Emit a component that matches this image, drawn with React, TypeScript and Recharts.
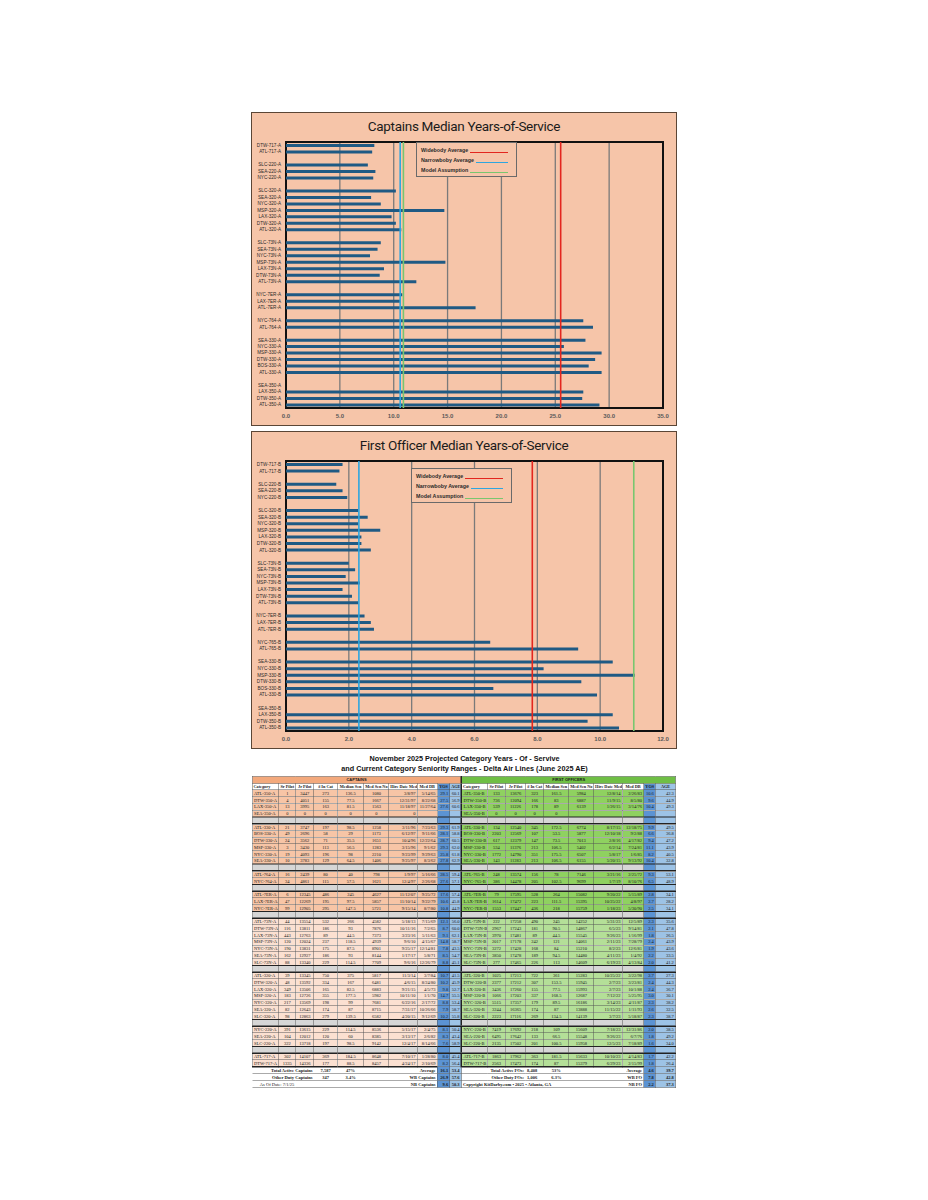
import React from "react";
import {
  Bar,
  BarChart,
  CartesianGrid,
  ReferenceArea,
  ReferenceLine,
  XAxis,
  YAxis,
} from "recharts";

// ---- chart data (top row first, "" = spacer row) ----
const captainCats = [
  "DTW-717-A", "ATL-717-A", "",
  "SLC-220-A", "SEA-220-A", "NYC-220-A", "",
  "SLC-320-A", "SEA-320-A", "NYC-320-A", "MSP-320-A", "LAX-320-A", "DTW-320-A", "ATL-320-A", "",
  "SLC-73N-A", "SEA-73N-A", "NYC-73N-A", "MSP-73N-A", "LAX-73N-A", "DTW-73N-A", "ATL-73N-A", "",
  "NYC-7ER-A", "LAX-7ER-A", "ATL-7ER-A", "",
  "NYC-764-A", "ATL-764-A", "",
  "SEA-330-A", "NYC-330-A", "MSP-330-A", "DTW-330-A", "BOS-330-A", "ATL-330-A", "",
  "SEA-350-A", "LAX-350-A", "DTW-350-A", "ATL-350-A",
];
const captainYos = [
  8.2, 8.0, null,
  7.6, 8.3, 8.1, null,
  10.2, 7.9, 8.8, 14.7, 9.8, 10.2, 10.7, null,
  8.8, 8.5, 7.8, 14.8, 9.1, 8.7, 12.1, null,
  10.8, 10.6, 17.6, null,
  27.6, 28.5, null,
  27.8, 25.8, 29.3, 28.7, 28.1, 29.3, null,
  0, 27.6, 27.5, 29.1,
];
const foCats = [
  "DTW-717-B", "ATL-717-B", "",
  "SLC-220-B", "SEA-220-B", "NYC-220-B", "",
  "SLC-320-B", "SEA-320-B", "NYC-320-B", "MSP-320-B", "LAX-320-B", "DTW-320-B", "ATL-320-B", "",
  "SLC-73N-B", "SEA-73N-B", "NYC-73N-B", "MSP-73N-B", "LAX-73N-B", "DTW-73N-B", "ATL-73N-B", "",
  "NYC-7ER-B", "LAX-7ER-B", "ATL-7ER-B", "",
  "NYC-765-B", "ATL-765-B", "",
  "SEA-330-B", "NYC-330-B", "MSP-330-B", "DTW-330-B", "BOS-330-B", "ATL-330-B", "",
  "SEA-350-B", "LAX-350-B", "DTW-350-B", "ATL-350-B",
];
const foYos = [
  1.8, 1.7, null,
  1.6, 1.8, 1.95, null,
  2.3, 2.6, 2.3, 3.0, 2.4, 2.4, 2.7, null,
  2.0, 2.2, 1.9, 2.35, 1.8, 2.1, 2.3, null,
  2.5, 2.7, 2.8, null,
  6.5, 9.3, null,
  10.4, 8.2, 11.1, 9.4, 6.6, 9.9, null,
  0, 10.4, 9.6, 10.6,
];
const captainTicks = [0, 5, 10, 15, 20, 25, 30, 35];
const foTicks = [0, 2, 4, 6, 8, 10, 12];
// widebody, narrowbody, model assumption
const captainLines = [25.5, 10.6, 10.9];
const foLines = [7.84, 2.32, 11.07];
const lineNames = ["Widebody Average", "Narrowboby Average", "Model Assumption"];
const lineColors = ["#E3261E", "#2EA6DF", "#79C66F"];

// ---- table data ----
const tableHeaders = [
  "Category", "Sr Pilot", "Jr Pilot", "# In Cat", "Median Sen", "Med Sen No", "Hire Date Med", "Med DB", "YOS", "AGE",
];
const captainGroups = [
  [
    ["ATL-350-A", "1", "3447", "273", "136.5", "1080", "3/8/97", "5/14/65", "29.1", "60.1"],
    ["DTW-350-A", "4", "4051", "155", "77.5", "1667", "12/31/97", "8/22/68", "27.5", "56.9"],
    ["LAX-350-A", "13", "3995", "163", "81.5", "1563", "11/18/97", "11/27/64", "27.6", "60.6"],
    ["SEA-350-A", "0", "0", "0", "0", "0", "0", "", "", ""],
  ],
  [
    ["ATL-330-A", "21", "3747", "197", "98.5", "1258", "3/11/96", "7/23/63", "29.3", "61.9"],
    ["BOS-330-A", "49", "2696", "58", "29", "1173", "6/12/97", "9/11/66", "28.1", "58.8"],
    ["DTW-330-A", "24", "3562", "71", "35.5", "1651", "10/4/96", "12/22/64", "28.7", "60.5"],
    ["MSP-330-A", "3", "3430", "113", "56.5", "1283", "3/15/96", "9/1/62", "29.3", "62.0"],
    ["NYC-330-A", "19", "4093", "196", "98", "2210", "9/23/99", "9/29/63", "25.8", "61.8"],
    ["SEA-330-A", "10", "3783", "129", "64.5", "1406", "9/25/97", "8/3/62", "27.8", "62.9"],
  ],
  [
    ["ATL-764-A", "16", "2439", "80", "40", "798", "1/9/97", "5/16/66", "28.5", "59.4"],
    ["NYC-764-A", "34", "4861", "115", "57.5", "1621", "12/4/97", "2/26/68", "27.6", "57.1"],
  ],
  [
    ["ATL-7ER-A", "6", "12345", "486", "245", "4627", "11/12/07", "9/25/72", "17.6", "57.4"],
    ["LAX-7ER-A", "47", "12269", "195", "97.5", "5857", "11/10/14", "9/22/79", "10.6", "45.8"],
    ["NYC-7ER-A", "99", "12905", "295", "147.5", "5721", "9/15/14", "8/7/80", "10.8", "44.9"],
  ],
  [
    ["ATL-73N-A", "44", "13554", "532", "266", "4582", "5/18/13", "7/15/69", "12.1", "56.0"],
    ["DTW-73N-A", "116", "13811", "186", "93", "7876", "10/11/16", "7/2/65", "8.7", "60.0"],
    ["LAX-73N-A", "443", "12763", "89", "44.5", "7373", "3/23/16", "5/11/63", "9.1", "62.1"],
    ["MSP-73N-A", "120", "12024", "237", "118.5", "4939", "9/6/10", "4/15/67", "14.8", "58.7"],
    ["NYC-73N-A", "190", "13831", "175", "87.5", "8901", "9/25/17", "12/14/81", "7.8", "43.5"],
    ["SEA-73N-A", "162", "12927", "186", "93", "8144", "1/17/17", "5/8/71", "8.5", "54.7"],
    ["SLC-73N-A", "88", "13340", "229", "114.5", "7709", "9/6/16", "12/26/79", "8.8", "45.1"],
  ],
  [
    ["ATL-320-A", "39", "13345", "750", "375", "5817", "11/3/14", "3/7/84", "10.7", "41.5"],
    ["DTW-320-A", "48", "13592", "334", "167", "6481", "4/6/15", "8/24/80", "10.2", "45.9"],
    ["LAX-320-A", "349", "13506", "165", "82.5", "6883", "9/21/15", "4/5/73", "9.8", "52.7"],
    ["MSP-320-A", "183", "12726", "355", "177.5", "5982", "10/11/10", "1/1/70", "14.7", "55.5"],
    ["NYC-320-A", "217", "13569", "198", "99", "7681", "6/22/16", "2/17/72", "8.8", "53.4"],
    ["SEA-320-A", "82", "12643", "174", "87", "8715", "7/31/17", "10/26/66", "7.9", "58.7"],
    ["SLC-320-A", "98", "12863", "279", "139.5", "6582", "4/20/15", "9/12/69", "10.2", "55.8"],
  ],
  [
    ["NYC-220-A", "391", "13615", "229", "114.5", "8536", "5/15/17", "2/4/75", "8.1", "50.4"],
    ["SEA-220-A", "104", "12012", "120", "60", "8385", "3/13/17", "2/6/82", "8.3", "43.4"],
    ["SLC-220-A", "322", "13718", "197", "98.5", "9142", "12/4/17", "8/14/66", "7.6", "58.9"],
  ],
  [
    ["ATL-717-A", "302", "14107", "369", "184.5", "8648", "7/10/17", "1/28/80", "8.0", "45.4"],
    ["DTW-717-A", "1335", "14336", "177", "88.5", "8457", "4/24/17", "2/10/69", "8.2", "56.4"],
  ],
];
const foGroups = [
  [
    ["ATL-350-B", "133", "13676", "323", "161.5", "5984", "12/8/14", "2/26/83", "10.6", "42.3"],
    ["DTW-350-B", "736", "12094", "166", "83", "6887", "11/9/15", "8/5/80", "9.6", "44.9"],
    ["LAX-350-B", "539", "11226", "178", "89", "6139", "1/26/15", "3/14/76", "10.4", "49.3"],
    ["SEA-350-B", "0", "0", "0", "0", "", "", "", "", ""],
  ],
  [
    ["ATL-330-B", "134", "12540", "345", "172.5", "6774", "8/17/15", "12/18/75", "9.9", "49.5"],
    ["BOS-330-B", "2203", "12569", "107", "53.5", "5877", "12/10/18", "9/2/88", "6.6", "36.8"],
    ["DTW-330-B", "617", "12379", "147", "73.5", "7013", "2/8/16", "4/17/82", "9.4", "47.2"],
    ["MSP-330-B", "534", "11376", "213", "106.5", "5402", "6/2/14", "7/24/81", "11.1", "43.9"],
    ["NYC-330-B", "1772", "14790", "351", "175.5", "6507", "5/8/17", "1/6/85", "8.2", "40.5"],
    ["SEA-330-B", "143", "11283", "213", "106.5", "6155", "5/20/15", "9/13/92", "10.4", "32.8"],
  ],
  [
    ["ATL-765-B", "248", "13574", "156", "78", "7146", "3/21/16", "2/25/72", "9.3", "53.1"],
    ["NYC-765-B", "386", "14478", "205", "102.5", "9699", "1/7/19", "8/10/76", "6.5", "48.9"],
  ],
  [
    ["ATL-7ER-B", "79", "17595", "528", "264", "15082", "9/20/22", "5/15/89", "2.8", "34.1"],
    ["LAX-7ER-B", "1614", "17472", "223", "111.5", "15395", "10/25/22", "4/8/97", "2.7", "28.2"],
    ["NYC-7ER-B", "1553", "17447", "436", "218", "15759", "1/18/23", "5/30/90", "2.5", "34.1"],
  ],
  [
    ["ATL-73N-B", "222", "17258", "490", "245", "14252", "5/31/23", "12/5/89", "2.3", "35.6"],
    ["DTW-73N-B", "2967", "17243", "181", "90.5", "14867", "6/5/23", "9/14/81", "2.1", "47.8"],
    ["LAX-73N-B", "3970", "17481", "89", "44.5", "15545", "9/26/23", "1/16/99", "1.8", "26.5"],
    ["MSP-73N-B", "2017", "17178", "242", "121", "14061", "2/11/23", "7/28/79", "2.4", "43.9"],
    ["NYC-73N-B", "3272", "17428", "168", "84", "15210", "8/2/23", "12/6/81", "1.9", "43.6"],
    ["SEA-73N-B", "3850", "17478", "189", "94.5", "14480", "4/11/23", "1/4/92", "2.2", "33.5"],
    ["SLC-73N-B", "277", "17465", "226", "113", "14609", "6/19/23", "4/13/84", "2.0", "41.2"],
  ],
  [
    ["ATL-320-B", "1025", "17213", "722", "361", "15283", "10/25/22", "3/22/98", "2.7", "27.3"],
    ["DTW-320-B", "2377", "17212", "307", "153.5", "15945", "2/7/23", "3/23/81", "2.4", "44.3"],
    ["LAX-320-B", "3436", "17260", "155", "77.5", "15993", "2/7/23", "10/1/88", "2.4", "36.7"],
    ["MSP-320-B", "1066", "17203", "337", "168.5", "12687", "7/12/22", "5/25/95", "3.0", "30.1"],
    ["NYC-320-B", "5515", "17357", "179", "89.5", "16186", "3/14/23", "4/11/87", "2.3", "38.2"],
    ["SEA-320-B", "3244", "16365", "174", "87", "13888", "11/15/22", "1/11/93", "2.6", "32.5"],
    ["SLC-320-B", "2223", "17116", "269", "134.5", "14139", "3/7/23", "5/18/87", "2.3", "38.7"],
  ],
  [
    ["NYC-220-B", "7419", "17692", "218", "109", "15609", "7/18/23", "12/31/86", "2.0", "38.5"],
    ["SEA-220-B", "6495", "17642", "133", "66.5", "15548", "9/26/23", "6/7/76", "1.8", "49.2"],
    ["SLC-220-B", "2135", "17502", "201", "100.5", "15958", "12/5/23", "7/18/89", "1.6", "34.0"],
  ],
  [
    ["ATL-717-B", "1863", "17962", "363", "181.5", "15633", "10/10/23", "4/14/83", "1.7", "42.2"],
    ["DTW-717-B", "2563", "17473", "174", "87", "15379", "6/29/23", "2/15/99", "1.8", "26.4"],
  ],
];

const PEACH = "#F6C5A9";
const BAR = "#1F5A84";

function YosPanel({
  title, cats, values, ticks, lines, top, height, legendLeft, legendTop,
}: any) {
  const max = ticks[ticks.length - 1];
  const rows = cats.map((c: string, i: number) => ({
    key: `${c}#${i}`,
    yos: values[i],
  }));
  return (
    <div
      style={{
        position: "absolute",
        left: 252,
        top,
        width: 424,
        height,
        background: PEACH,
        outline: "1.5px solid #5b4636",
        fontFamily: '"Liberation Sans", Arial, sans-serif',
      }}
    >
      <div
        style={{
          position: "absolute",
          left: 0,
          right: 0,
          top: 4,
          textAlign: "center",
          fontFamily: "Roboto, sans-serif",
          fontSize: 13.5,
          letterSpacing: -0.3,
          lineHeight: "18px",
          color: "#1b1b1b",
          zIndex: 2,
        }}
      >
        {title}
      </div>
      <BarChart
        width={424}
        height={height}
        data={rows}
        layout="vertical"
        margin={{ top: 29, right: 13, bottom: 5, left: 0 }}
        barCategoryGap={0}
      >
        <CartesianGrid horizontal={false} stroke="#7a7a7a" strokeWidth={1.3} />
        <XAxis
          type="number"
          domain={[0, max]}
          ticks={ticks}
          interval={0}
          height={12}
          axisLine={false}
          tickLine={false}
          tickSize={3}
          tickMargin={3}
          tickFormatter={(v: number) => v.toFixed(1)}
          tick={{ fontSize: 6, fill: "#5a5a5a", fontWeight: 700 }}
        />
        <YAxis
          type="category"
          dataKey="key"
          width={34}
          interval={0}
          axisLine={false}
          tickLine={false}
          tickSize={3}
          tickMargin={2}
          tickFormatter={(v: string) => v.split("#")[0]}
          tick={{ fontSize: 4.6, fill: "#2a2a2a" }}
        />
        <Bar dataKey="yos" fill={BAR} barSize={3} isAnimationActive={false} />
        {lines.map((x: number, i: number) => (
          <ReferenceLine key={i} x={x} stroke={lineColors[i]} strokeWidth={1.6} />
        ))}
        <ReferenceArea x1={0} x2={max} fill="none" stroke="#111" strokeWidth={2} fillOpacity={0} />
      </BarChart>
      <div
        style={{
          position: "absolute",
          left: legendLeft,
          top: legendTop,
          width: 101,
          height: 35,
          boxSizing: "border-box",
          background: PEACH,
          border: "1px solid #6a6a6a",
          padding: "2px 8px 0 4px",
          zIndex: 3,
        }}
      >
        {lineNames.map((n, i) => (
          <div
            key={n}
            style={{
              display: "flex",
              alignItems: "center",
              height: 10,
              fontSize: 5.3,
              fontWeight: 700,
              color: "#2a2a2a",
            }}
          >
            <span style={{ whiteSpace: "nowrap" }}>{n}</span>
            <span
              style={{
                flex: 1,
                borderTop: `1px solid ${lineColors[i]}`,
                marginLeft: 2,
                marginTop: 4,
              }}
            />
          </div>
        ))}
      </div>
    </div>
  );
}

// table widths at 1x; the table is drawn at 2x and scaled down
const colW = [
  26.7, 16.7, 18.3, 23.3, 26.7, 25, 28.3, 20, 12.7, 11.3,
  26, 18.3, 20, 18.3, 25, 25, 28.3, 21.7, 11.7, 20,
];
const YOS_BG = "#5B93D3";
const AGE_BG = "#9DC3E6";
const ALIGN: any[] = ["left", "center", "center", "center", "center", "center", "right", "right", "right", "right"];

function cellBg(col: number, base: string) {
  if (col === 8) return YOS_BG;
  if (col === 9) return AGE_BG;
  return base;
}

function SeniorityTable() {
  const bd = "1px solid #555";
  const td = (content: string, col: number, bg: string, extra: any = {}) => (
    <td
      style={{
        background: cellBg(col % 10, bg),
        border: bd,
        borderLeft: col === 10 ? "3px solid #222" : bd,
        textAlign: ALIGN[col % 10],
        padding: "0 3px",
        whiteSpace: "nowrap",
        overflow: "hidden",
        ...extra,
      }}
    >
      {content}
    </td>
  );
  const body: any[] = [];
  captainGroups.forEach((g, gi) => {
    if (gi > 0) {
      body.push(
        <tr key={`gap${gi}`} style={{ height: 13.5 }}>
          {colW.map((_, c) => (
            <td
              key={c}
              style={{
                background: c % 10 >= 8 ? (c % 10 === 8 ? YOS_BG : AGE_BG) : "#D6D6D6",
                borderTop: "2px solid #222",
                borderBottom: "3px solid #222",
                borderLeft: c === 10 ? "3px solid #222" : bd,
                borderRight: bd,
              }}
            />
          ))}
        </tr>
      );
    }
    const capBg = gi < 4 ? "#F7C5A6" : "#FBE0D1";
    const foBg = gi < 4 ? "#8FD160" : "#B4DF98";
    g.forEach((r, ri) => {
      const f = foGroups[gi][ri];
      body.push(
        <tr key={`${gi}-${ri}`} style={{ height: 13.5 }}>
          {r.map((v, c) => <React.Fragment key={c}>{td(v, c, capBg)}</React.Fragment>)}
          {f.map((v, c) => <React.Fragment key={c + 10}>{td(v, c + 10, foBg)}</React.Fragment>)}
        </tr>
      );
    });
  });

  const bold = { fontWeight: 700 };
  const tot = (cells: any[]) => (
    <tr style={{ height: 14 }}>{cells}</tr>
  );
  const t = (txt: string, span: number, align: any, extra: any = {}) => (
    <td
      colSpan={span}
      style={{
        textAlign: align,
        padding: "0 3px",
        whiteSpace: "nowrap",
        borderBottom: bd,
        ...bold,
        ...extra,
      }}
    >
      {txt}
    </td>
  );
  const yos = (v: string) => t(v, 1, "right", { background: YOS_BG, border: bd });
  const age = (v: string) => t(v, 1, "right", { background: AGE_BG, border: bd });

  return (
    <div
      style={{
        position: "absolute",
        left: 252,
        top: 752,
        width: 850,
        transform: "scale(0.5)",
        transformOrigin: "0 0",
        background: "#fff",
        fontFamily: '"Liberation Serif", "Times New Roman", serif',
        fontSize: 9,
        color: "#1a1a1a",
      }}
    >
      <div
        style={{
          height: 48,
          textAlign: "center",
          fontFamily: '"Liberation Sans", Arial, sans-serif',
          fontWeight: 700,
          fontSize: 14.5,
          lineHeight: "19px",
          paddingTop: 4,
          boxSizing: "border-box",
          color: "#111",
        }}
      >
        <div>November 2025 Projected Category Years - Of - Servive</div>
        <div>and Current Category Seniority Ranges - Delta Air Lines (June 2025 AE)</div>
      </div>
      <table
        style={{
          borderCollapse: "collapse",
          tableLayout: "fixed",
          width: colW.reduce((a, b) => a + b, 0) * 2,
        }}
      >
        <colgroup>
          {colW.map((w, i) => (
            <col key={i} style={{ width: w * 2 }} />
          ))}
        </colgroup>
        <tbody>
          <tr style={{ height: 14 }}>
            <td colSpan={10} style={{ background: "#F3A97C", textAlign: "center", fontWeight: 700, fontSize: 8, fontFamily: '"Liberation Sans", Arial, sans-serif', border: bd }}>
              CAPTAINS
            </td>
            <td colSpan={10} style={{ background: "#6FBF45", textAlign: "center", fontWeight: 700, fontSize: 8, fontFamily: '"Liberation Sans", Arial, sans-serif', border: bd, borderLeft: "3px solid #222" }}>
              FIRST OFFICERS
            </td>
          </tr>
          <tr style={{ height: 13 }}>
            {[...tableHeaders, ...tableHeaders].map((h, c) => (
              <td
                key={c}
                style={{
                  background: cellBg(c % 10, "#fff"),
                  border: bd,
                  borderLeft: c === 10 ? "3px solid #222" : bd,
                  fontWeight: 700,
                  fontSize: 8.5,
                  textAlign: c % 10 === 0 ? "left" : "center",
                  padding: "0 2px",
                  whiteSpace: "nowrap",
                  overflow: "hidden",
                }}
              >
                {h}
              </td>
            ))}
          </tr>
          {body}
          {tot([
            t("Total Active Captains", 3, "right", { borderTop: "3px solid #222" }),
            t("7,587", 1, "center", { borderTop: "3px solid #222" }),
            t("47%", 1, "center", { borderTop: "3px solid #222" }),
            t("Average", 3, "right", { borderTop: "3px solid #222" }),
            yos("16.1"),
            age("53.4"),
            t("Total Active  FOs:", 3, "right", { borderTop: "3px solid #222" }),
            t("8,408", 1, "left", { borderTop: "3px solid #222" }),
            t("53%", 1, "center", { borderTop: "3px solid #222" }),
            t("Average", 3, "right", { borderTop: "3px solid #222" }),
            yos("4.6"),
            age("39.7"),
          ])}
          {tot([
            t("Other Duty Captains", 3, "right"),
            t("347", 1, "center"),
            t("3.4%", 1, "center"),
            t("WB Captains", 3, "right"),
            yos("26.9"),
            age("57.6"),
            t("Other Duty FOs:", 3, "right"),
            t("1,006", 1, "left"),
            t("6.3%", 1, "center"),
            t("WB FO", 3, "right"),
            yos("7.8"),
            age("42.8"),
          ])}
          {tot([
            t("As Of Date:   7/1/25", 2, "right", { fontWeight: 400 }),
            t("", 1, "left"),
            t("", 1, "left"),
            t("", 1, "left"),
            t("NB Captains", 3, "right"),
            yos("9.6"),
            age("50.3"),
            t("Copyright KitDarby.com • 2025 • Atlanta, GA", 6, "left"),
            t("NB FO", 2, "right"),
            yos("2.2"),
            age("37.3"),
          ])}
        </tbody>
      </table>
    </div>
  );
}

export default function App() {
  return (
    <div
      style={{
        position: "absolute",
        left: 0,
        top: 0,
        width: 928,
        height: 1200,
        background: "#fff",
        overflow: "hidden",
      }}
    >
      <YosPanel
        title="Captains Median Years-of-Service"
        cats={captainCats}
        values={captainYos}
        ticks={captainTicks}
        lines={captainLines}
        top={113}
        height={312}
        legendLeft={164}
        legendTop={29}
      />
      <YosPanel
        title="First Officer Median Years-of-Service"
        cats={foCats}
        values={foYos}
        ticks={foTicks}
        lines={foLines}
        top={432}
        height={316}
        legendLeft={159}
        legendTop={36}
      />
      <SeniorityTable />
    </div>
  );
}
